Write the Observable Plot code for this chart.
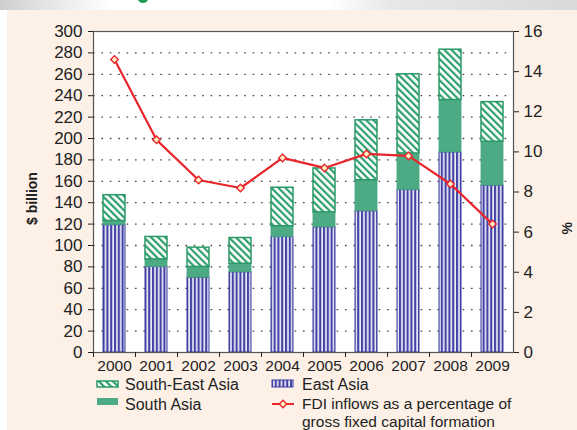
<!DOCTYPE html>
<html><head><meta charset="utf-8">
<script src="https://cdn.jsdelivr.net/npm/d3@7"></script>
<script src="https://cdn.jsdelivr.net/npm/@observablehq/plot@0.6"></script>
<style>
html,body{margin:0;padding:0}
body{width:577px;height:430px;overflow:hidden;position:relative;background:#fff;font-family:"Liberation Sans",Arial,sans-serif}
#top{position:absolute;left:0;top:0;width:577px;height:10px;background:linear-gradient(90deg,#cdcdcd 0,#e6e6e6 50px,#fff 110px,#fff 330px,#e8e8e8 390px,#d9d9d9 577px)}
#dot{position:absolute;left:138px;top:-5px;width:10px;height:8px;border-radius:50%;background:#1f9b55}
#cream{position:absolute;left:7px;top:10px;width:570px;height:420px;background:#fdf1e7}
#chart{position:absolute;left:0;top:10px}
.leg{position:absolute;font-size:16px;line-height:15px;color:#222;white-space:nowrap}
.sw{position:absolute;overflow:visible}
</style></head><body>
<div id="top"></div><div id="dot"></div>
<div id="cream"></div>
<div id="chart"></div>
<svg class="sw" style="left:96px;top:380px" width="24" height="9"><rect x="1" y="1" width="21" height="6" fill="url(#pSE)" stroke="#2a9a68" stroke-width="1.5"/></svg>
<div class="leg" style="left:125px;top:377px">South-East Asia</div>
<svg class="sw" style="left:96px;top:397px" width="24" height="10"><rect x="1" y="1" width="21" height="7" fill="#4caa84"/></svg>
<div class="leg" style="left:125px;top:396.5px">South Asia</div>
<svg class="sw" style="left:271px;top:379px" width="24" height="10"><rect x="1" y="1" width="21" height="7" fill="url(#pEA)" stroke="#3b3b9f" stroke-width="1"/></svg>
<div class="leg" style="left:302px;top:377px">East Asia</div>
<svg class="sw" style="left:270px;top:397px" width="26" height="14"><line x1="2" y1="7" x2="24" y2="7" stroke="#e8262c" stroke-width="2"/><path d="M13,3.3L16.7,7L13,10.7L9.3,7Z" fill="#fff3c8" stroke="#e8262c" stroke-width="1.4"/></svg>
<div class="leg" style="left:302px;top:395px;font-size:15.5px;line-height:17.5px">FDI inflows as a percentage of<br>gross fixed capital formation</div>
<script>
const years = ["2000","2001","2002","2003","2004","2005","2006","2007","2008","2009"];
const eastAsia = [119, 80, 70, 75, 108, 117, 132, 152, 187, 156];
const southAsia = [4, 7, 10, 8, 10, 14, 29, 34, 49, 41];
const southEastAsia = [24, 21, 18, 24, 36, 41, 56, 74, 47, 37];
const fdiPct = [14.6, 10.6, 8.6, 8.2, 9.7, 9.2, 9.9, 9.8, 8.4, 6.4];
const leftTicks = d3.range(0, 301, 20);
const rightTicks = d3.range(0, 17, 2);
const k = 300 / 16;

const rows = years.map((year, i) => ({
  year,
  ea: eastAsia[i],
  sa: southAsia[i],
  se: southEastAsia[i],
  pct: fdiPct[i]
}));

const svg = Plot.plot({
  width: 577,
  height: 382,
  marginTop: 21,
  marginBottom: 40,
  marginLeft: 93,
  marginRight: 64,
  style: {background: "transparent", fontFamily: "Liberation Sans, Arial, sans-serif", color: "#222"},
  x: {type: "band", domain: years, paddingInner: 0.48, paddingOuter: 0.24, label: null},
  y: {domain: [0, 300], label: null},
  marks: [
    Plot.frame({fill: "white", stroke: null}),
    Plot.ruleY(leftTicks.filter(t => t > 0 && t < 300), {stroke: "#444", strokeDasharray: "1.6,6.8", strokeWidth: 1.3}),
    Plot.barY(rows, {x: "year", y1: () => 0, y2: "ea", fill: "url(#pEA)", stroke: "#3b3b9f", strokeWidth: 1}),
    Plot.barY(rows, {x: "year", y1: "ea", y2: d => d.ea + d.sa, fill: "#4caa84", stroke: "#47a37e", strokeWidth: 0.8}),
    Plot.barY(rows, {x: "year", y1: d => d.ea + d.sa, y2: d => d.ea + d.sa + d.se, fill: "url(#pSE)", stroke: "#2a9a68", strokeWidth: 1.5}),
    Plot.frame({stroke: "#555", strokeWidth: 1.2}),
    Plot.axisY({ticks: leftTicks, tickSize: 5, tickPadding: 6, fontSize: 17, label: null}),
    Plot.axisY({anchor: "right", ticks: rightTicks.map(v => v * k), tickFormat: d => Math.round(d / k), tickSize: 5, tickPadding: 5, fontSize: 17, label: null}),
    Plot.axisX({tickSize: 0, tickPadding: 7, fontSize: 15.5, label: null}),
    Plot.axisX({tickSize: 5, tickFormat: () => "", dx: -21, label: null}),
    Plot.line(rows, {x: "year", y: d => d.pct * k, stroke: "#e8262c", strokeWidth: 2.2}),
    Plot.dot(rows, {x: "year", y: d => d.pct * k, symbol: "diamond2", r: 3.4, fill: "#fff3c8", stroke: "#e8262c", strokeWidth: 1.4}),
    Plot.text(["$ billion"], {frameAnchor: "left", dx: -60.5, dy: 33, rotate: -90, fontWeight: "bold", fontSize: 14, fill: "#222"}),
    Plot.text(["%"], {frameAnchor: "right", dx: 53.7, dy: 30, rotate: -90, fontWeight: "bold", fontSize: 14, fill: "#222"})
  ]
});

const defs = d3.select(svg).insert("defs", ":first-child");
const pe = defs.append("pattern").attr("id", "pEA").attr("patternUnits", "userSpaceOnUse").attr("width", 3.8).attr("height", 10);
pe.append("rect").attr("width", 3.8).attr("height", 10).attr("fill", "#ececf8");
pe.append("rect").attr("width", 2.1).attr("height", 10).attr("fill", "#4343a6");
const ps = defs.append("pattern").attr("id", "pSE").attr("patternUnits", "userSpaceOnUse").attr("width", 5).attr("height", 10).attr("patternTransform", "rotate(-45)");
ps.append("rect").attr("width", 5).attr("height", 10).attr("fill", "#ffffff");
ps.append("rect").attr("width", 2.2).attr("height", 10).attr("fill", "#2f9f6d");

document.getElementById("chart").appendChild(svg);
</script>
</body></html>
